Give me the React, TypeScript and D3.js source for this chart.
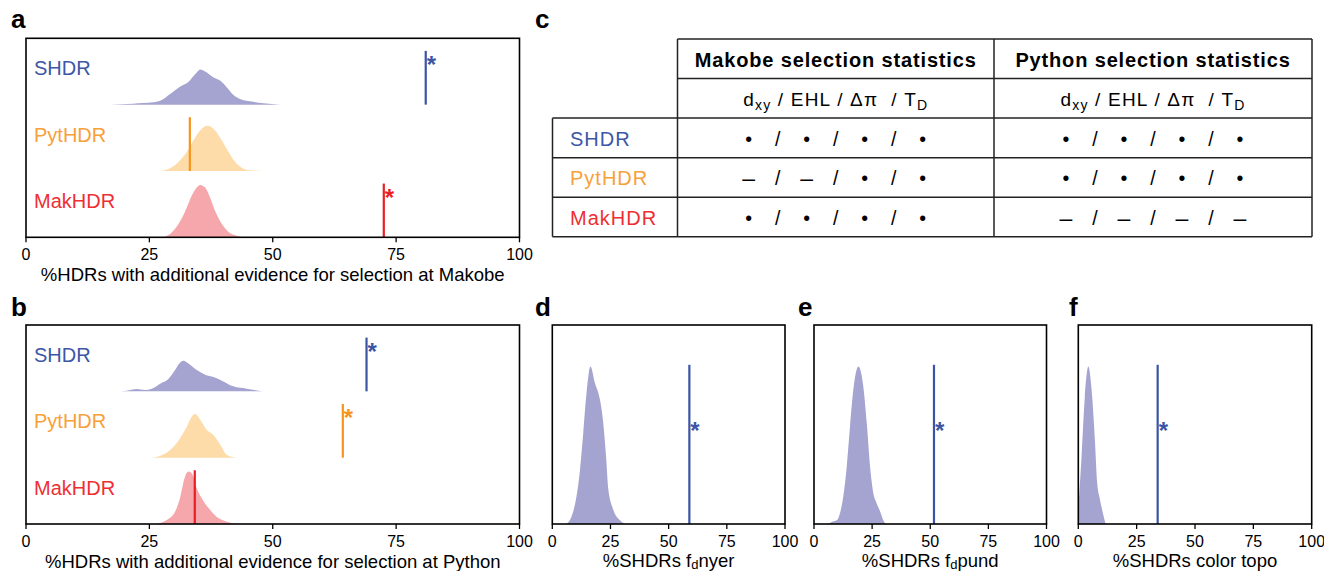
import React from "react";
import * as d3 from "d3";

const W = 1324;
const H = 571;
const FONT = "'Liberation Sans', Arial, Helvetica, sans-serif";

// ---------- data ----------
const ridgeGroups = ["SHDR", "PytHDR", "MakHDR"];
const xTicks = [0, 25, 50, 75, 100];

type Pt = [number, number];

// null distributions (% HDRs, density) – panel a (Makobe)
const makobeNullSHDR: Pt[] = [[17, 0], [21.7, 0.0015], [25.8, 0.0035], [27.5, 0.007], [29.2, 0.016], [31.2, 0.027], [32.9, 0.034], [34.3, 0.046], [35.3, 0.053], [36.3, 0.05], [38, 0.041], [39.4, 0.036], [40.7, 0.026], [42, 0.015], [43.4, 0.0086], [45.4, 0.005], [48.1, 0.002], [51.5, 0]];
const makobeNullPytHDR: Pt[] = [[26.8, 0], [28.5, 0.002], [29.9, 0.007], [31.2, 0.016], [32.6, 0.029], [33.9, 0.046], [35.3, 0.061], [36.8, 0.068], [38.3, 0.061], [39.7, 0.046], [41, 0.029], [42.4, 0.0136], [43.7, 0.005], [45.4, 0.001], [48.1, 0]];
const makobeNullMakHDR: Pt[] = [[27.5, 0], [29.2, 0.005], [30.9, 0.02], [32.3, 0.04], [33.6, 0.063], [34.6, 0.075], [35.3, 0.079], [36.3, 0.075], [37.3, 0.06], [38.3, 0.04], [39.7, 0.02], [41.4, 0.006], [43.4, 0.001], [43.8, 0]];
const makobeObserved = [81.0, 33.2, 72.5];
const makobeSignificant = [true, false, true];

// panel b (Python)
const pythonNullSHDR: Pt[] = [[18, 0], [20.4, 0.001], [22.4, 0.0035], [24.1, 0.002], [25.5, 0.004], [27.2, 0.0116], [28.9, 0.019], [30.2, 0.032], [31.2, 0.043], [31.9, 0.046], [32.9, 0.042], [34.6, 0.032], [36.3, 0.025], [38, 0.0216], [40, 0.015], [42, 0.0075], [44.7, 0.004], [48, 0]];
const pythonNullPytHDR: Pt[] = [[25.5, 0], [27.2, 0.003], [29.2, 0.0116], [31.2, 0.029], [32.6, 0.047], [33.6, 0.062], [34.3, 0.066], [35.3, 0.057], [36.6, 0.042], [38, 0.034], [39.4, 0.019], [40.7, 0.004], [42.6, 0]];
const pythonNullMakHDR: Pt[] = [[26.5, 0], [28.5, 0.006], [30.2, 0.0186], [31.2, 0.039], [32.2, 0.071], [32.9, 0.079], [33.8, 0.074], [34.6, 0.054], [35.6, 0.039], [37, 0.024], [38.6, 0.011], [40.7, 0.0035], [43.4, 0]];
const pythonObserved = [69.0, 64.2, 34.2];
const pythonSignificant = [true, true, false];

// panels d, e, f (SHDRs)
const fdNyerNull: Pt[] = [[6.1, 0], [8.3, 0.0048], [10.4, 0.0174], [11.9, 0.0339], [13.3, 0.0572], [14.7, 0.0823], [16.4, 0.099], [18.3, 0.0886], [20.5, 0.078], [21.9, 0.0634], [23.1, 0.0425], [24.1, 0.0215], [26.2, 0.009], [29.1, 0.0023], [31.2, 0]];
const fdPundNull: Pt[] = [[6.1, 0], [7.6, 0.0013], [9.8, 0.0023], [11.2, 0.0069], [12.6, 0.0174], [14.1, 0.0362], [15.5, 0.0614], [16.9, 0.0843], [19.1, 0.099], [21.2, 0.0865], [22.7, 0.0634], [24.1, 0.0362], [25.5, 0.0195], [26.9, 0.0132], [28.4, 0.008], [29.8, 0.0023], [30.8, 0]];
const colorTopoNull: Pt[] = [[0, 0.009], [1.4, 0.0425], [2.8, 0.08], [4.3, 0.099], [5.7, 0.0843], [7.1, 0.053], [8.1, 0.0257], [9.3, 0.0153], [10.7, 0.0058], [11.7, 0]];
const shdrObserved = [58.9, 51.6, 34.0];

// table c
const tableColumns = ["Makobe selection statistics", "Python selection statistics"];
const tableRows = ["SHDR", "PytHDR", "MakHDR"];
const makobeStats = [["•", "•", "•", "•"], ["–", "–", "•", "•"], ["•", "•", "•", "•"]];
const pythonStats = [["•", "•", "•", "•"], ["•", "•", "•", "•"], ["–", "–", "–", "–"]];

// ---------- styles ----------
const lineColors = ["#3b54a4", "#f7941d", "#ec1c24"];
const fillColors = ["#a5a4d1", "#fddcaa", "#f5a7ab"];
const textColors = ["#3d56a6", "#f8a03a", "#ee2e33"];

function Axis({ x, y1 }: { x: d3.ScaleLinear<number, number>; y1: number }) {
  return (
    <g>
      {xTicks.map((t) => (
        <g key={t}>
          <line x1={x(t)} x2={x(t)} y1={y1} y2={y1 + 5} stroke="#000" strokeWidth={1.3} />
          <text x={x(t)} y={y1 + 22.7} fontSize={16} textAnchor="middle" fontFamily={FONT} fill="#000">
            {t}
          </text>
        </g>
      ))}
    </g>
  );
}

function RidgePanel(props: {
  x0: number; x1: number; y0: number; y1: number;
  densities: Pt[][]; observed: number[]; significant: boolean[];
  title: string; label: string; labelX: number; labelY: number; clipId: string;
}) {
  const { x0, x1, y0, y1, densities, observed, significant, title, label, labelX, labelY, clipId } = props;
  const x = d3.scaleLinear().domain([0, 100]).range([x0, x1]);
  const rowH = (y1 - y0) / ridgeGroups.length;
  const yS = d3.scaleLinear().domain([0, 0.1]).range([0, rowH]);
  return (
    <g>
      <clipPath id={clipId}>
        <rect x={x0} y={y0} width={x1 - x0} height={y1 - y0} />
      </clipPath>
      <g clipPath={`url(#${clipId})`}>
        {ridgeGroups.map((g, i) => {
          const base = y0 + rowH * (i + 1);
          const area = d3.area<Pt>()
            .x((d) => x(d[0]))
            .y0(base)
            .y1((d) => base - yS(d[1]))
            .curve(d3.curveMonotoneX);
          return <path key={g} d={area(densities[i]) || ""} fill={fillColors[i]} />;
        })}
      </g>
      {ridgeGroups.map((g, i) => {
        const base = y0 + rowH * (i + 1);
        const top = base - rowH * 0.81;
        const lx = x(observed[i]);
        return (
          <g key={g}>
            <line x1={lx} x2={lx} y1={base} y2={top} stroke={lineColors[i]} strokeWidth={2.2} />
            {significant[i] && (
              <text x={lx + 1} y={top + 22} fontSize={24} fontWeight="bold" fontFamily={FONT} fill={lineColors[i]}>*</text>
            )}
            <text x={x0 + 8} y={y0 + rowH * i + 37} fontSize={20} fontFamily={FONT} fill={textColors[i]}>
              {g}
            </text>
          </g>
        );
      })}
      <rect x={x0} y={y0} width={x1 - x0} height={y1 - y0} fill="none" stroke="#000" strokeWidth={1.6} />
      <Axis x={x} y1={y1} />
      <text x={(x0 + x1) / 2} y={y1 + 44} fontSize={18.5} textAnchor="middle" fontFamily={FONT} fill="#000">
        {title}
      </text>
      <text x={labelX} y={labelY} fontSize={26} fontWeight="bold" fontFamily={FONT} fill="#000">{label}</text>
    </g>
  );
}

function SinglePanel(props: {
  x0: number; x1: number; y0: number; y1: number;
  density: Pt[]; observed: number; titleA: string; titleSub?: string; titleB?: string;
  label: string; labelX: number; labelY: number; clipId: string;
}) {
  const { x0, x1, y0, y1, density, observed, titleA, titleSub, titleB, label, labelX, labelY, clipId } = props;
  const x = d3.scaleLinear().domain([0, 100]).range([x0, x1]);
  const h = y1 - y0;
  const yS = d3.scaleLinear().domain([0, 0.125]).range([0, h]);
  const area = d3.area<Pt>()
    .x((d) => x(d[0]))
    .y0(y1)
    .y1((d) => y1 - yS(d[1]))
    .curve(d3.curveMonotoneX);
  const lx = x(observed);
  const top = y1 - h * 0.8;
  return (
    <g>
      <clipPath id={clipId}>
        <rect x={x0} y={y0} width={x1 - x0} height={h} />
      </clipPath>
      <path d={area(density) || ""} fill={fillColors[0]} clipPath={`url(#${clipId})`} />
      <line x1={lx} x2={lx} y1={y1} y2={top} stroke={lineColors[0]} strokeWidth={2.2} />
      <text x={lx + 1} y={(y0 + y1) / 2 + 14.5} fontSize={24} fontWeight="bold" fontFamily={FONT} fill={lineColors[0]}>*</text>
      <rect x={x0} y={y0} width={x1 - x0} height={h} fill="none" stroke="#000" strokeWidth={1.6} />
      <Axis x={x} y1={y1} />
      <text x={(x0 + x1) / 2} y={y1 + 43} fontSize={18.5} textAnchor="middle" fontFamily={FONT} fill="#000">
        {titleA}
        {titleSub && <tspan fontSize={13} dy={2}>{titleSub}</tspan>}
        {titleB && <tspan fontSize={18.5} dy={-2}>{titleB}</tspan>}
      </text>
      <text x={labelX} y={labelY} fontSize={26} fontWeight="bold" fontFamily={FONT} fill="#000">{label}</text>
    </g>
  );
}

function StatsTable() {
  const left = 552.5;
  const c1 = 677.5;
  const c2 = 994;
  const right = 1312;
  const top = 39;
  const rowH = 39.55;
  const rowY = d3.range(6).map((i) => top + rowH * i);
  const centers = [(c1 + c2) / 2, (c2 + right) / 2];
  const statSets = [makobeStats, pythonStats];
  const stroke = "#222";
  const sw = 1.5;
  const baseOff = 27.7;
  return (
    <g fontFamily={FONT}>
      {/* horizontal lines */}
      <line x1={c1} x2={right} y1={rowY[0]} y2={rowY[0]} stroke={stroke} strokeWidth={sw} />
      <line x1={c1} x2={right} y1={rowY[1]} y2={rowY[1]} stroke={stroke} strokeWidth={sw} />
      {[2, 3, 4, 5].map((i) => (
        <line key={i} x1={left} x2={right} y1={rowY[i]} y2={rowY[i]} stroke={stroke} strokeWidth={sw} />
      ))}
      {/* vertical lines */}
      <line x1={c1} x2={c1} y1={rowY[0]} y2={rowY[5]} stroke={stroke} strokeWidth={sw} />
      <line x1={c2} x2={c2} y1={rowY[0]} y2={rowY[5]} stroke={stroke} strokeWidth={sw} />
      <line x1={right} x2={right} y1={rowY[0]} y2={rowY[5]} stroke={stroke} strokeWidth={sw} />
      <line x1={left} x2={left} y1={rowY[2]} y2={rowY[5]} stroke={stroke} strokeWidth={sw} />
      {/* headers */}
      {tableColumns.map((c, j) => (
        <g key={c}>
          <text x={centers[j]} y={rowY[0] + baseOff} fontSize={20} fontWeight="bold" textAnchor="middle"
            letterSpacing={0.85} fill="#000">{c}</text>
          <text x={centers[j]} y={rowY[1] + baseOff} fontSize={19} textAnchor="middle" letterSpacing={1.2}
            fill="#000" style={{ whiteSpace: "pre" }}>
            d<tspan fontSize={14} dy={4}>xy</tspan><tspan dy={-4}>{" / EHL / Δπ  / T"}</tspan><tspan fontSize={14} dy={4}>D</tspan>
          </text>
        </g>
      ))}
      {/* rows */}
      {tableRows.map((r, i) => {
        const by = rowY[i + 2] + baseOff;
        return (
          <g key={r}>
            <text x={570} y={by} fontSize={20} letterSpacing={1} fill={textColors[i]}>{r}</text>
            {statSets.map((set, j) => {
              const tokens: string[] = [];
              set[i].forEach((s, k) => {
                if (k > 0) tokens.push("/");
                tokens.push(s);
              });
              const px = d3.scalePoint<number>().domain(d3.range(tokens.length)).range([centers[j] - 87, centers[j] + 87]);
              return tokens.map((t, k) => (
                <text key={`${j}-${k}`} x={px(k)} y={t === "–" ? by + 1 : by} textAnchor="middle"
                  fontSize={t === "–" ? 23 : 19.5} fill="#000">{t}</text>
              ));
            })}
          </g>
        );
      })}
      <text x={535} y={28} fontSize={26} fontWeight="bold" fill="#000">c</text>
    </g>
  );
}

export default function App() {
  return (
    <svg width={W} height={H} viewBox={`0 0 ${W} ${H}`}
      style={{ position: "absolute", left: 0, top: 0, background: "#fff" }}>
      <rect x={0} y={0} width={W} height={H} fill="#fff" />
      <RidgePanel x0={26} x1={519.5} y0={38.3} y1={237.3}
        densities={[makobeNullSHDR, makobeNullPytHDR, makobeNullMakHDR]}
        observed={makobeObserved} significant={makobeSignificant}
        title="%HDRs with additional evidence for selection at Makobe" label="a" labelX={11} labelY={28.3} clipId="clipA" />
      <RidgePanel x0={26} x1={519.5} y0={325} y1={524}
        densities={[pythonNullSHDR, pythonNullPytHDR, pythonNullMakHDR]}
        observed={pythonObserved} significant={pythonSignificant}
        title="%HDRs with additional evidence for selection at Python" label="b" labelX={11} labelY={316} clipId="clipB" />
      <StatsTable />
      <SinglePanel x0={552.3} x1={785} y0={325} y1={524} density={fdNyerNull} observed={shdrObserved[0]}
        titleA="%SHDRs f" titleSub="d" titleB="nyer" label="d" labelX={535} labelY={316} clipId="clipD" />
      <SinglePanel x0={814} x1={1046.5} y0={325} y1={524} density={fdPundNull} observed={shdrObserved[1]}
        titleA="%SHDRs f" titleSub="d" titleB="pund" label="e" labelX={798} labelY={316} clipId="clipE" />
      <SinglePanel x0={1078.3} x1={1311.7} y0={325} y1={524} density={colorTopoNull} observed={shdrObserved[2]}
        titleA="%SHDRs color topo" label="f" labelX={1069} labelY={316} clipId="clipF" />
    </svg>
  );
}
